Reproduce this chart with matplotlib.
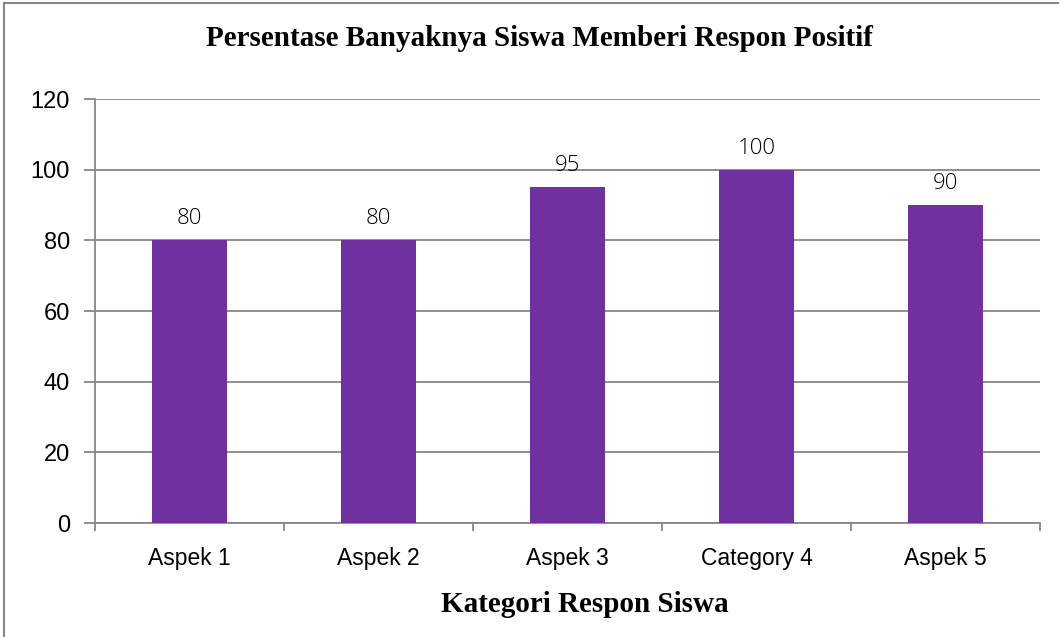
import matplotlib.pyplot as plt
from matplotlib.patches import Rectangle

categories = ["Aspek 1", "Aspek 2", "Aspek 3", "Category 4", "Aspek 5"]
values = [80, 80, 95, 100, 90]
yticks = [0, 20, 40, 60, 80, 100, 120]

bar_color = "#7030A0"
grey = "#878787"

fig = plt.figure(figsize=(10.59, 6.37), dpi=100)
fig.patches.append(Rectangle((4 / 1059, -0.1), 1.2, 1.1 - 3 / 637, transform=fig.transFigure,
                             fill=False, edgecolor=grey, linewidth=1.5))

ax = fig.add_axes([95 / 1059, 1 - 523 / 637, (1040 - 95) / 1059, (523 - 99) / 637])
x = list(range(len(categories)))
ax.bar(x, values, width=0.4, color=bar_color, zorder=3)
ax.set_xlim(-0.5, len(categories) - 0.5)
ax.set_ylim(0, 120)
ax.set_yticks(yticks)
ax.yaxis.grid(True, color=grey, linewidth=1.3, zorder=0)

tick_font = "Liberation Sans"
ax.set_xticks(x)
ax.set_xticklabels(categories, family=tick_font, fontsize=16.5)
ax.set_yticklabels([str(t) for t in yticks], family=tick_font, fontsize=17)
ax.set_xticks([i - 0.5 for i in range(len(categories) + 1)], minor=True)
ax.tick_params(axis="x", which="major", length=0, pad=17)
ax.tick_params(axis="x", which="minor", length=6, width=1.3, color=grey)
ax.tick_params(axis="y", length=8, width=1.3, color=grey, pad=10)

for s in ["top", "right"]:
    ax.spines[s].set_visible(False)
for s in ["left", "bottom"]:
    ax.spines[s].set_color(grey)
    ax.spines[s].set_linewidth(1.3)

for xi, v in zip(x, values):
    ax.annotate(str(v), (xi, v), xytext=(0, 8), textcoords="offset points",
                ha="center", va="bottom", fontsize=16, family="Open Sans", fontweight="light")

title_font = "Liberation Serif"
fig.text(0.5 + 10 / 1059, 1 - 38 / 637, "Persentase Banyaknya Siswa Memberi Respon Positif",
         ha="center", va="center", fontsize=21, fontweight="bold", family=title_font)
fig.text(585 / 1059, 1 - 605 / 637, "Kategori Respon Siswa",
         ha="center", va="center", fontsize=21, fontweight="bold", family=title_font)

fig.savefig("out.png", dpi=100)
